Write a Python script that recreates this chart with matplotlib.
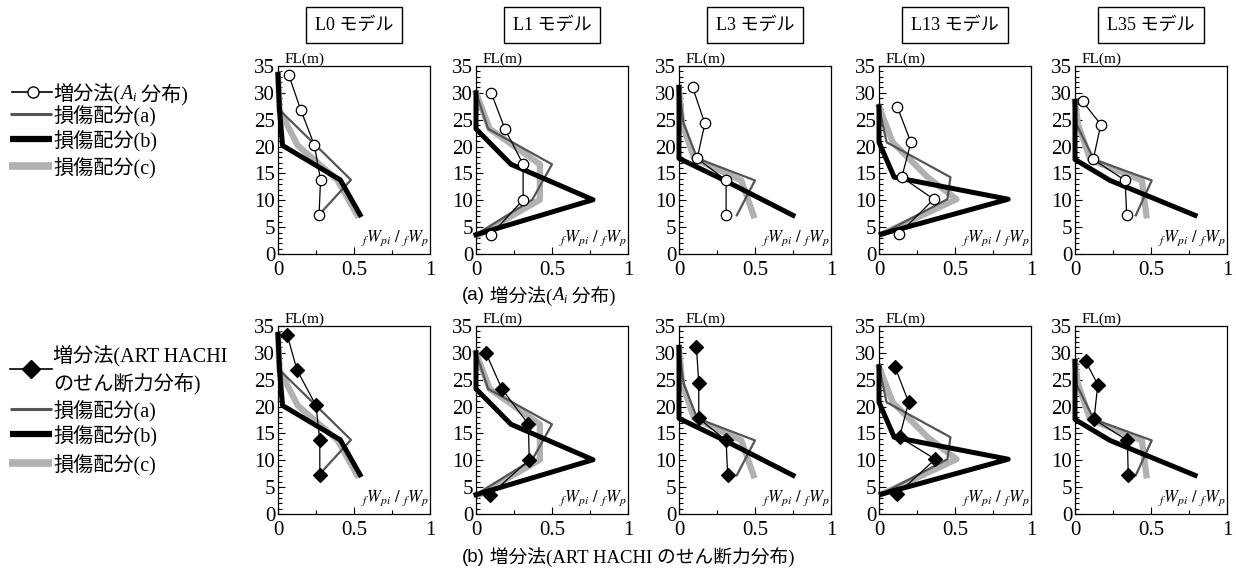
import matplotlib
matplotlib.use('Agg')
import matplotlib.pyplot as plt
from matplotlib.ticker import MultipleLocator

plt.rcParams['font.family'] = ['Liberation Serif', 'Noto Sans CJK JP']
plt.rcParams['mathtext.fontset'] = 'stix'

# models (columns)
models = ['L0', 'L1', 'L3', 'L13', 'L35']

# floor heights FL(m) of each plotted point, top to bottom
heights = [
    [33.4, 26.8, 20.2, 13.8, 7.3],
    [30.0, 23.3, 16.7, 10.1, 3.6],
    [31.0, 24.3, 17.8, 13.7, 7.2],
    [27.4, 20.8, 14.3, 10.2, 3.7],
    [28.4, 24.1, 17.6, 13.7, 7.2],
]

# 増分法 (Ai 分布) - open circles
ai_dist = [
    [0.07, 0.15, 0.24, 0.28, 0.27],
    [0.10, 0.19, 0.31, 0.31, 0.10],
    [0.09, 0.17, 0.12, 0.31, 0.31],
    [0.12, 0.21, 0.15, 0.36, 0.13],
    [0.05, 0.17, 0.12, 0.33, 0.34],
]

# 増分法 (ART HACHI のせん断力分布) - filled diamonds
art_dist = [
    [0.06, 0.125, 0.25, 0.275, 0.275],
    [0.065, 0.17, 0.345, 0.35, 0.095],
    [0.115, 0.13, 0.13, 0.31, 0.32],
    [0.105, 0.195, 0.135, 0.37, 0.12],
    [0.07, 0.15, 0.125, 0.345, 0.35],
]

# 損傷配分 (a), (b), (c)
dmg_a = [
    [0.0, 0.01, 0.25, 0.48, 0.27],
    [0.0, 0.08, 0.50, 0.37, 0.0],
    [0.0, 0.03, 0.12, 0.50, 0.38],
    [0.0, 0.05, 0.47, 0.45, 0.015],
    [0.0, 0.01, 0.125, 0.505, 0.40],
]
dmg_b = [
    [0.0, 0.01, 0.03, 0.41, 0.54],
    [0.0, 0.0, 0.23, 0.77, 0.0],
    [0.0, 0.0, 0.0, 0.30, 0.75],
    [0.0, 0.0, 0.10, 0.85, 0.015],
    [0.0, 0.0, 0.0, 0.23, 0.79],
]
dmg_c = [
    [0.0, 0.01, 0.13, 0.39, 0.52],
    [0.0, 0.09, 0.42, 0.42, 0.02],
    [0.0, 0.02, 0.10, 0.41, 0.49],
    [0.0, 0.09, 0.32, 0.51, 0.02],
    [0.0, 0.02, 0.10, 0.44, 0.47],
]

col_a = '#555555'
col_b = '#000000'
col_c = '#b3b0b0'

W, H = 1236, 573
fig = plt.figure(figsize=(W / 100, H / 100), dpi=100)

# overlay in pixel coords (y from top) for legends and captions
lax = fig.add_axes([0, 0, 1, 1])
lax.set_xlim(0, W)
lax.set_ylim(H, 0)
lax.axis('off')


def rich(x, y, parts, size):
    prev = None
    for s, kw in parts:
        kw = dict(kw)
        dy = kw.pop('dy', 0)
        fs = kw.pop('size', size)
        if prev is None:
            prev = lax.annotate(s, xy=(x, y), xycoords='data', xytext=(0, dy),
                                textcoords='offset points', va='center_baseline',
                                ha='left', fontsize=fs, **kw)
        else:
            prev = lax.annotate(s, xy=(1, y), xycoords=(prev, 'data'), xytext=(0, dy),
                                textcoords='offset points', va='center_baseline',
                                ha='left', fontsize=fs, **kw)
    return prev


lefts = [278, 476, 679, 879, 1075]
tops = [66, 326]
aw, ah = 152, 188

for r, (vals, mk, mfc) in enumerate([(ai_dist, 'o', 'white'), (art_dist, 'D', 'black')]):
    for c, m in enumerate(models):
        ax = fig.add_axes([lefts[c] / W, 1 - (tops[r] + ah) / H, aw / W, ah / H])
        h = heights[c]
        ax.plot(dmg_c[c], h, color=col_c, lw=4.5, clip_on=False, zorder=2)
        ax.plot(dmg_a[c], h, color=col_a, lw=1.6, clip_on=False, zorder=3)
        ax.plot(dmg_b[c], h, color=col_b, lw=3.6, clip_on=False, zorder=4)
        ax.plot(vals[c], h, color='black', lw=0.9, marker=mk, ms=7.5 if mk == 'o' else 7.5,
                mfc=mfc, mec='black', mew=0.9, clip_on=False, zorder=5)
        ax.set_xlim(0, 1)
        ax.set_ylim(0, 35)
        ax.xaxis.set_major_locator(MultipleLocator(0.5))
        ax.xaxis.set_minor_locator(MultipleLocator(0.25))
        ax.yaxis.set_major_locator(MultipleLocator(5))
        ax.yaxis.set_minor_locator(MultipleLocator(1))
        ax.set_xticks([0, 0.5, 1])
        ax.set_xticklabels(['0', '0.5', '1'])
        ax.tick_params(which='both', direction='in', top=False, right=False, width=0.8)
        ax.tick_params(which='major', length=5, labelsize=15)
        ax.tick_params(axis='x', which='major', pad=5)
        ax.tick_params(axis='y', which='major', pad=2)
        ax.tick_params(which='minor', length=3)
        for sp in ax.spines.values():
            sp.set_linewidth(0.9)
        ax.text(0.045, 1.0, 'FL(m)', transform=ax.transAxes, fontsize=11,
                ha='left', va='bottom')
        ax.text(0.99, 0.03, r'${}_{f}W_{pi}\ /\ {}_{f}W_{p}$', transform=ax.transAxes,
                fontsize=12, ha='right', va='bottom')
        if r == 0:
            ax.text(0.5, 1.218, m + ' モデル', transform=ax.transAxes, fontsize=13,
                    ha='center', va='center',
                    bbox=dict(boxstyle='square,pad=0.5', fc='white', ec='black', lw=1))

# legend, row 1
lax.plot([12, 52], [92, 92], color='black', lw=1.2)
lax.plot([33], [92], marker='o', ms=8, mfc='white', mec='black', mew=1)
rich(53, 92, [('増分法(', {}), ('A', {'style': 'italic'}), ('i', {'style': 'italic', 'size': 9, 'dy': -3}),
              (' 分布)', {})], 14.5)
lax.plot([10, 52], [114, 114], color=col_a, lw=2.2, solid_capstyle='butt')
lax.text(53, 114, '損傷配分(a)', fontsize=14.5, va='center_baseline')
lax.plot([10, 52], [139, 139], color=col_b, lw=4.5, solid_capstyle='butt')
lax.text(53, 139, '損傷配分(b)', fontsize=14.5, va='center_baseline')
lax.plot([9, 52], [166, 166], color=col_c, lw=5.5, solid_capstyle='butt')
lax.text(53, 166, '損傷配分(c)', fontsize=14.5, va='center_baseline')

# legend, row 2
lax.plot([10, 52], [369, 369], color='black', lw=1.2)
lax.plot([31], [369], marker='D', ms=9, mfc='black', mec='black')
lax.text(53, 354, '増分法(ART HACHI', fontsize=14.5, va='center_baseline')
lax.text(53, 381, 'のせん断力分布)', fontsize=14.5, va='center_baseline')
lax.plot([10, 52], [409, 409], color=col_a, lw=2.2, solid_capstyle='butt')
lax.text(53, 409, '損傷配分(a)', fontsize=14.5, va='center_baseline')
lax.plot([10, 52], [434, 434], color=col_b, lw=4.5, solid_capstyle='butt')
lax.text(53, 434, '損傷配分(b)', fontsize=14.5, va='center_baseline')
lax.plot([9, 52], [463, 463], color=col_c, lw=5.5, solid_capstyle='butt')
lax.text(53, 463, '損傷配分(c)', fontsize=14.5, va='center_baseline')

# captions
rich(462, 294, [('(a)', {'family': ['Liberation Sans']}), (' 増分法(', {}), ('A', {'style': 'italic'}),
                ('i', {'style': 'italic', 'size': 8.5, 'dy': -3}), (' 分布)', {})], 13.5)
rich(462, 555, [('(b)', {'family': ['Liberation Sans']}),
                (' 増分法(ART HACHI のせん断力分布)', {})], 13.5)

fig.savefig('out.png', dpi=100)
